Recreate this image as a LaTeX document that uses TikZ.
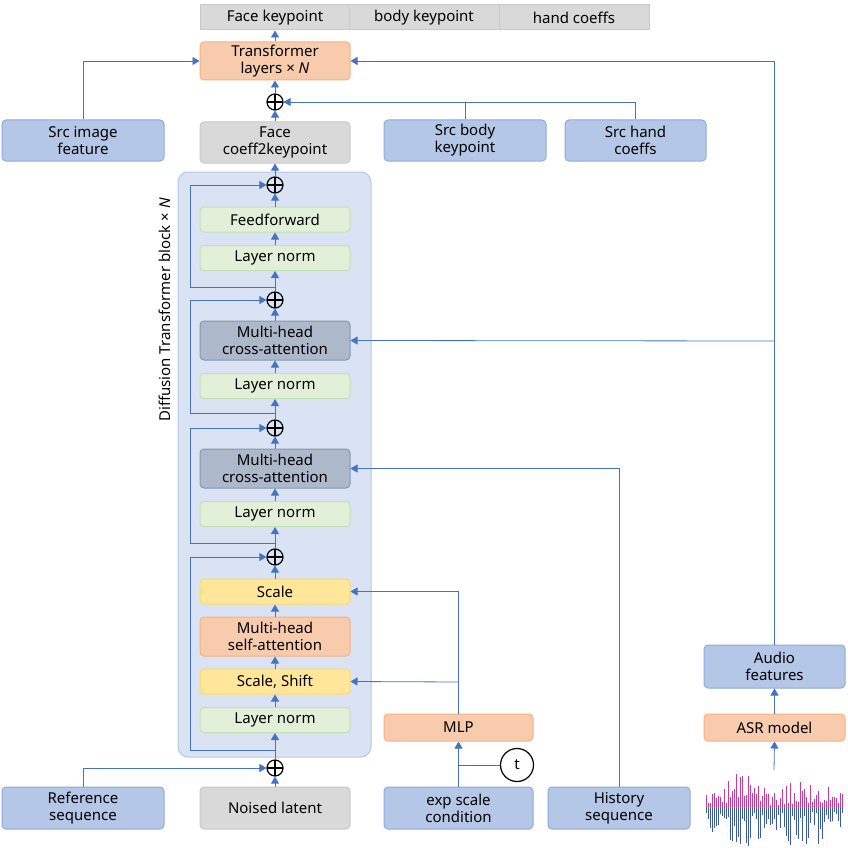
\documentclass[tikz,border=0pt]{standalone}
\usepackage{fontspec}
\setmainfont{Noto Sans}
\usetikzlibrary{arrows.meta}
\definecolor{ln}{HTML}{4472C4}
\definecolor{wpink}{RGB}{200,60,150}
\definecolor{wblue}{RGB}{60,90,160}
\definecolor{bluf}{RGB}{180,199,231}\definecolor{blud}{RGB}{143,170,220}
\definecolor{gryf}{RGB}{217,217,217}\definecolor{gryd}{RGB}{200,200,200}
\definecolor{orgf}{RGB}{248,203,173}\definecolor{orgd}{RGB}{244,177,131}
\definecolor{grnf}{RGB}{226,240,217}\definecolor{grnd}{RGB}{197,224,180}
\definecolor{yelf}{RGB}{255,230,153}\definecolor{yeld}{RGB}{255,217,102}
\definecolor{dgyf}{RGB}{173,185,202}\definecolor{dgyd}{RGB}{132,151,176}
\definecolor{conf}{RGB}{218,227,243}
\begin{document}
\begin{tikzpicture}[x=1pt,y=-1pt,
 bx/.style={draw,rounded corners=4pt,line width=1pt,align=center,inner sep=0pt,font=\fontsize{15}{17}\selectfont},
 blu/.style={bx,fill=bluf,draw=blud},
 gry/.style={bx,fill=gryf,draw=gryd},
 org/.style={bx,fill=orgf,draw=orgd},
 grn/.style={bx,fill=grnf,draw=grnd},
 yel/.style={bx,fill=yelf,draw=yeld},
 dgy/.style={bx,fill=dgyf,draw=dgyd},
 cell/.style={draw=gryd,fill=gryf,line width=1pt,inner sep=0pt,minimum width=150pt,minimum height=25pt,font=\fontsize{15}{17}\selectfont},
 opl/.style={circle,draw,line width=1.2pt,minimum size=16pt,inner sep=0pt,path picture={\draw[line width=1.2pt](path picture bounding box.north)--(path picture bounding box.south)(path picture bounding box.west)--(path picture bounding box.east);}},
 ar/.style={draw=ln,line width=0.8pt,-{Triangle[length=7pt,width=8pt]}},
 li/.style={draw=ln,line width=0.8pt}]
\path[use as bounding box] (0,0) rectangle (848,848);
\draw[fill=conf,draw=bluf,line width=1pt,rounded corners=10pt] (178,172) rectangle (371,757);
\node[rotate=90,font=\fontsize{15}{17}\selectfont] (dtlabel) at (165,310) {Diffusion Transformer block × \textit{N}};
\node[cell] (c1) at (275,17.5) {Face keypoint};
\node[cell] (c2) at (424,17.5) {body keypoint};
\node[cell] (c3) at (574,17.5) {hand coeffs};
\node[org,minimum width=150pt,minimum height=38pt] (tr) at (275,61) {Transformer\\layers × \textit{N}};
\node[opl] (o0) at (275,102) {};
\node[gry,minimum width=150pt,minimum height=41pt] (fc) at (275,142.5) {Face\\coeff2keypoint};
\node[blu,minimum width=162pt,minimum height=41pt] (si) at (83,140.5) {Src image\\feature};
\node[blu,minimum width=162pt,minimum height=41pt] (sb) at (465,140.5) {Src body\\keypoint};
\node[blu,minimum width=141pt,minimum height=41pt] (sh) at (635.5,140.5) {Src hand\\coeffs};
\node[opl] (o1) at (275,185) {};
\node[grn,minimum width=150pt,minimum height=25pt] (ff) at (275,219.5) {Feedforward};
\node[grn,minimum width=150pt,minimum height=25pt] (ln1) at (275,258) {Layer norm};
\node[opl] (o2) at (275,300) {};
\node[dgy,minimum width=150pt,minimum height=39pt] (ca1) at (275,340.5) {Multi-head\\cross-attention};
\node[grn,minimum width=150pt,minimum height=25pt] (ln2) at (275,386) {Layer norm};
\node[opl] (o3) at (275,428) {};
\node[dgy,minimum width=150pt,minimum height=39pt] (ca2) at (275,468.5) {Multi-head\\cross-attention};
\node[grn,minimum width=150pt,minimum height=25pt] (ln3) at (275,514) {Layer norm};
\node[opl] (o4) at (275,557) {};
\node[yel,minimum width=150pt,minimum height=25pt] (sc) at (275,591.5) {Scale};
\node[org,minimum width=150pt,minimum height=39pt] (sa) at (275,636.5) {Multi-head\\self-attention};
\node[yel,minimum width=150pt,minimum height=25pt] (ss) at (275,681.5) {Scale, Shift};
\node[grn,minimum width=150pt,minimum height=25pt] (ln4) at (275,720) {Layer norm};
\node[opl] (o5) at (275,768) {};
\node[gry,minimum width=150pt,minimum height=42pt] (nl) at (275,808) {Noised latent};
\node[blu,minimum width=162pt,minimum height=42pt] (rs) at (83,808) {Reference\\sequence};
\node[org,minimum width=149pt,minimum height=27pt] (mlp) at (458.5,727.5) {MLP};
\node[blu,minimum width=149pt,minimum height=42pt] (ex) at (458.5,808) {exp scale\\condition};
\node[circle,draw,line width=1.2pt,minimum size=33pt,inner sep=0pt,font=\fontsize{15}{17}\selectfont] (t) at (517,765) {t};
\node[blu,minimum width=142pt,minimum height=42pt] (hs) at (619,808) {History\\sequence};
\node[blu,minimum width=141pt,minimum height=43pt] (af) at (774.5,666.5) {Audio\\features};
\node[org,minimum width=141pt,minimum height=27pt] (asr) at (774.5,727.5) {ASR model};
\coordinate (wv) at (774,770);
\pgfmathsetseed{7}
\foreach \i in {0,...,68}{
  \pgfmathsetmacro{\xx}{706+2*\i}
  \pgfmathsetmacro{\env}{0.35+0.65*abs(sin(\i*5.5))}
  \pgfmathsetmacro{\up}{3+32*\env*rnd}
  \pgfmathsetmacro{\dn}{3+40*\env*rnd}
  \draw[wpink,line width=1pt] (\xx,808)--(\xx,808-\up);
  \draw[wblue,line width=1pt] (\xx,808)--(\xx,808+\dn);
}
\draw[ar] (tr) -- (c1);
\draw[ar] (o0) -- (tr);
\draw[ar] (fc) -- (o0);
\draw[ar] (o1) -- (fc);
\draw[ar] (ff) -- (o1);
\draw[ar] (ln1) -- (ff);
\draw[ar] (o2) -- (ln1);
\draw[ar] (ca1) -- (o2);
\draw[ar] (ln2) -- (ca1);
\draw[ar] (o3) -- (ln2);
\draw[ar] (ca2) -- (o3);
\draw[ar] (ln3) -- (ca2);
\draw[ar] (o4) -- (ln3);
\draw[ar] (sc) -- (o4);
\draw[ar] (sa) -- (sc);
\draw[ar] (ss) -- (sa);
\draw[ar] (ln4) -- (ss);
\draw[ar] (o5) -- (ln4);
\draw[ar] (nl) -- (o5);
\draw[ar] (275,287) -| (190,185) -- (o1);
\draw[ar] (275,413) -| (190,300) -- (o2);
\draw[ar] (275,543) -| (190,428) -- (o3);
\draw[ar] (275,750) -| (190,557) -- (o4);
\draw[ar] (si.north) |- (tr.west);
\draw[li] (sb.north) |- (o0.east);
\draw[ar] (sh.north) |- (o0.east);
\draw[ar] (af.north) |- (tr.east);
\draw[ar] (774,341) -- (ca1.east);
\draw[ar] (hs.north) |- (ca2.east);
\draw[ar] (rs.north) |- (o5.west);
\draw[ar] (mlp.north) |- (sc.east);
\draw[ar] (458.5,682) -- (ss.east);
\draw[ar] (ex.north) -- (mlp.south);
\draw[li] (t.west) -- (458.5,765);
\draw[ar] (wv) -- (asr.south);
\draw[ar] (asr.north) -- (af.south);
\end{tikzpicture}
\end{document}
